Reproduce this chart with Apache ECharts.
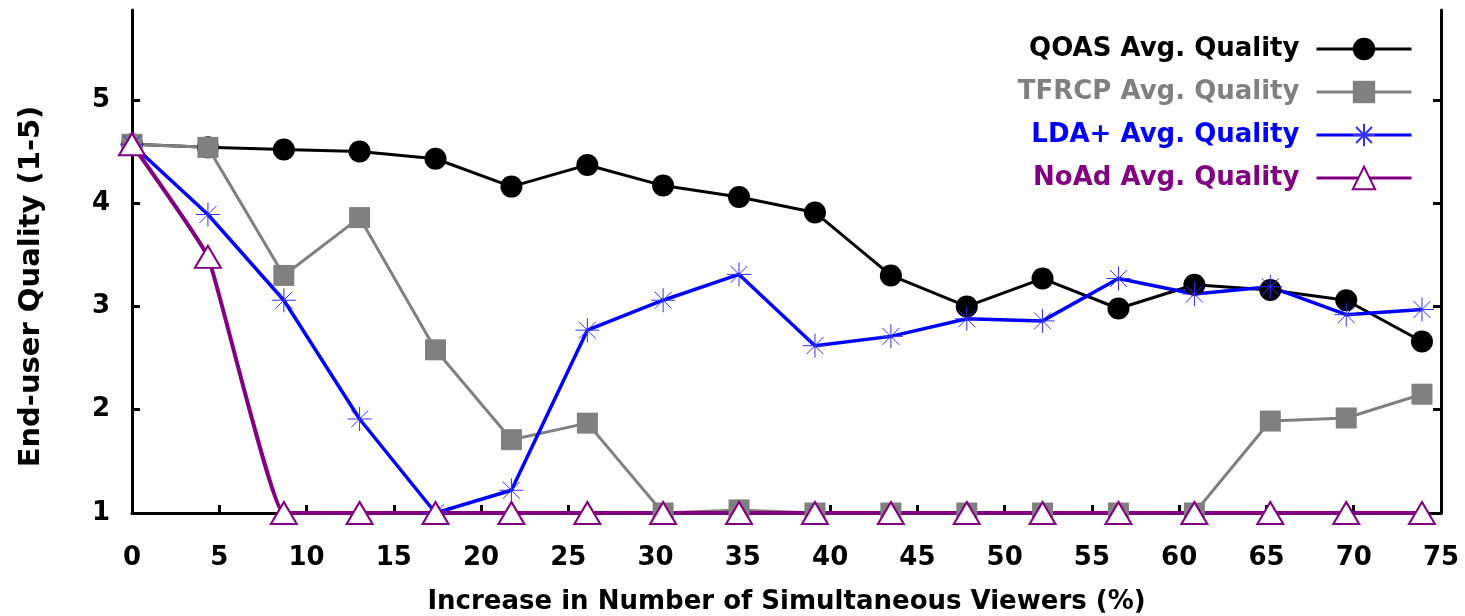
<!DOCTYPE html>
<html>
<head>
<meta charset="utf-8">
<script src="https://cdn.jsdelivr.net/npm/echarts@6/dist/echarts.min.js"></script>
<style>
    html, body { margin: 0; padding: 0; background: #fff; }
    #chart { width: 1465px; height: 616px; }
</style>
</head>
<body>
<div id="chart"></div>
<script>
    // x positions of the measurements (% increase in viewers)
    var viewers = [0, 4.35, 8.7, 13.04, 17.39, 21.74, 26.09, 30.43, 34.78, 39.13,
        43.48, 47.83, 52.17, 56.52, 60.87, 65.22, 69.57, 73.91];

    var qoas = [4.57, 4.54, 4.52, 4.5, 4.43, 4.16, 4.37, 4.17, 4.06, 3.91,
        3.3, 3.0, 3.27, 2.98, 3.21, 3.16, 3.06, 2.66];
    var tfrcp = [4.57, 4.54, 3.3, 3.86, 2.58, 1.71, 1.87, 1.0, 1.03, 1.0,
        1.0, 1.0, 1.0, 1.0, 1.0, 1.89, 1.92, 2.15];
    var lda = [4.57, 3.89, 3.06, 1.91, 1.0, 1.22, 2.77, 3.06, 3.31, 2.62,
        2.71, 2.88, 2.86, 3.27, 3.12, 3.19, 2.92, 2.97];
    var noad = [4.57, 3.48, 1.0, 1.0, 1.0, 1.0, 1.0, 1.0, 1.0, 1.0,
        1.0, 1.0, 1.0, 1.0, 1.0, 1.0, 1.0, 1.0];

    var yTicks = [1, 2, 3, 4, 5];
    var seriesNames = ['QOAS Avg. Quality', 'TFRCP Avg. Quality', 'LDA+ Avg. Quality', 'NoAd Avg. Quality'];

    function pairs(ys) {
        return ys.map(function (v, i) { return [viewers[i], v]; });
    }

    var font = 'DejaVu Sans, sans-serif';
    var asterisk = 'path://M0,-10L0,10M-10,0L10,0M-7.07,-7.07L7.07,7.07M-7.07,7.07L7.07,-7.07';

    var chart = echarts.init(document.getElementById('chart'));

    var option = {
        animation: false,
        backgroundColor: '#fff',
        grid: { left: 132, right: 24, top: 10, bottom: 103, outerBoundsMode: 'none' },
        legend: {
            orient: 'vertical',
            right: 47,
            top: 31,
            align: 'right',
            itemWidth: 95,
            itemHeight: 28,
            itemGap: 17,
            lineStyle: { width: 3 },
            textStyle: { fontFamily: font, fontWeight: 'bold', fontSize: 26, padding: [0, 12, 0, 0] },
            data: [
                { name: seriesNames[0], textStyle: { color: '#000' } },
                { name: seriesNames[1], textStyle: { color: '#808080' } },
                { name: seriesNames[2], textStyle: { color: '#0000ff' } },
                { name: seriesNames[3], textStyle: { color: '#800080' } }
            ]
        },
        xAxis: {
            type: 'value',
            min: 0,
            max: 75,
            interval: 5,
            name: 'Increase in Number of Simultaneous Viewers (%)',
            nameLocation: 'middle',
            nameGap: 76,
            nameTextStyle: { fontFamily: font, fontWeight: 'bold', fontSize: 26, color: '#000' },
            axisLine: { lineStyle: { color: '#000', width: 3 } },
            axisTick: { inside: true, length: 8, lineStyle: { color: '#000', width: 3 } },
            axisLabel: { fontFamily: font, fontWeight: 'bold', fontSize: 26, color: '#000', margin: 32 },
            splitLine: { show: false }
        },
        yAxis: [
            {
                type: 'value',
                min: 1,
                max: 5.87,
                name: 'End-user Quality (1-5)',
                nameLocation: 'middle',
                nameGap: 86,
                nameTextStyle: { fontFamily: font, fontWeight: 'bold', fontSize: 29, color: '#000', padding: [0, 50, 0, 0] },
                axisLine: { lineStyle: { color: '#000', width: 3 } },
                axisTick: { inside: true, length: 8, customValues: yTicks, lineStyle: { color: '#000', width: 3 } },
                axisLabel: { fontFamily: font, fontWeight: 'bold', fontSize: 26, color: '#000', margin: 22, customValues: yTicks },
                splitLine: { show: false }
            },
            {
                type: 'value',
                position: 'right',
                min: 1,
                max: 5.87,
                axisLine: { show: true, lineStyle: { color: '#000', width: 3 } },
                axisTick: { inside: true, length: 8, customValues: yTicks, lineStyle: { color: '#000', width: 3 } },
                axisLabel: { show: false },
                splitLine: { show: false }
            }
        ],
        series: [
            {
                name: seriesNames[0],
                type: 'line',
                data: pairs(qoas),
                symbol: 'circle',
                symbolSize: 22,
                lineStyle: { color: '#000', width: 3 },
                itemStyle: { color: '#000' }
            },
            {
                name: seriesNames[1],
                type: 'line',
                data: pairs(tfrcp),
                symbol: 'rect',
                symbolSize: 21,
                lineStyle: { color: '#808080', width: 3 },
                itemStyle: { color: '#808080' }
            },
            {
                name: seriesNames[2],
                type: 'line',
                data: pairs(lda),
                symbol: asterisk,
                symbolSize: 24,
                lineStyle: { color: '#0000ff', width: 3.5 },
                itemStyle: { color: '#0000ff', borderColor: '#3030ff', borderWidth: 1 }
            },
            {
                name: seriesNames[3],
                type: 'line',
                data: pairs(noad),
                smooth: 0.1,
                symbol: 'emptyTriangle',
                symbolSize: [26, 22],
                lineStyle: { color: '#800080', width: 4 },
                itemStyle: { color: '#800080', borderWidth: 1 }
            }
        ]
    };

    chart.setOption(option);
</script>
</body>
</html>
